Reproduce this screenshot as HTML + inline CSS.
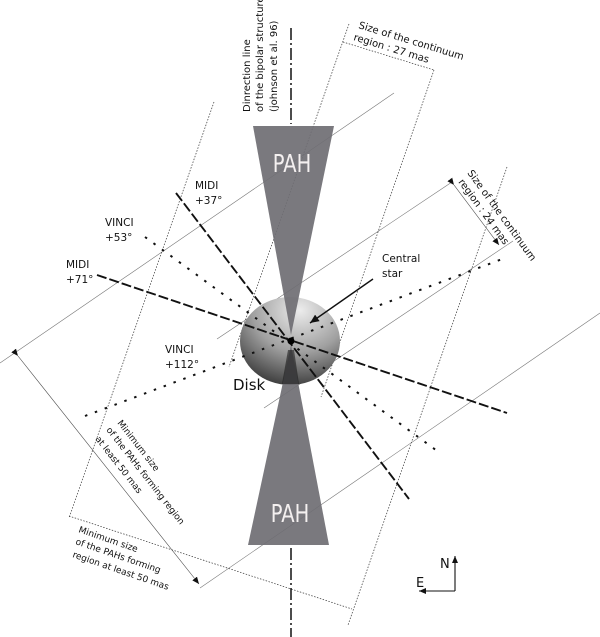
<!DOCTYPE html>
<html><head><meta charset="utf-8"><style>
html,body{margin:0;padding:0;background:#fff;}
svg{display:block;}
text{font-family:"DejaVu Sans","Liberation Sans",sans-serif;fill:#111;}
</style></head><body>
<svg width="600" height="637" viewBox="0 0 600 637" xmlns="http://www.w3.org/2000/svg">
<defs>
<radialGradient id="dg" cx="0.6" cy="0.15" r="0.95">
<stop offset="0" stop-color="#ececec"/>
<stop offset="0.5" stop-color="#a0a0a0"/>
<stop offset="1" stop-color="#2a2a2a"/>
</radialGradient>
<marker id="ah" markerWidth="8" markerHeight="8" refX="7" refY="4" orient="auto" markerUnits="userSpaceOnUse">
<path d="M0,1 L7,4 L0,7 z" fill="#111"/></marker>
<marker id="ahs" markerWidth="10" markerHeight="10" refX="9" refY="5" orient="auto" markerUnits="userSpaceOnUse">
<path d="M0,1 L9,5 L0,9 z" fill="#111"/></marker>
</defs>
<g stroke="#777" stroke-width="0.6" fill="none">
<line x1="394" y1="93" x2="0" y2="363"/>
<line x1="452" y1="182" x2="217" y2="339"/>
<line x1="600" y1="313" x2="200" y2="588"/>
<line x1="513" y1="241" x2="264" y2="408"/>
</g>
<g stroke="#333" stroke-width="0.7" fill="none" stroke-dasharray="1.5 1.5">
<line x1="349" y1="24" x2="229" y2="367"/>
<line x1="434" y1="70" x2="321" y2="397"/>
<line x1="214" y1="102" x2="69" y2="518"/>
<line x1="507" y1="167" x2="348" y2="625"/>
<line x1="343" y1="42" x2="434" y2="70"/>
<line x1="69" y1="516" x2="352" y2="609"/>
</g>
<g stroke="#444" stroke-width="0.6" fill="none">
<line x1="454" y1="185" x2="499" y2="245" marker-start="url(#ah)" marker-end="url(#ah)"/>
<line x1="18" y1="356" x2="199" y2="584" marker-start="url(#ah)" marker-end="url(#ah)"/>
</g>
<ellipse cx="290" cy="341" rx="50" ry="44" fill="url(#dg)"/>
<polygon points="253,126 334,126 291,335" fill="#6f6e73" opacity="0.92"/>
<polygon points="291,345 329,545 248,545" fill="#6f6e73" opacity="0.92"/>
<polygon points="288,350 294,350 299,384 282,384" fill="#1a1a1a" opacity="0.6"/>
<text transform="translate(292,172) scale(0.78,1)" font-size="25" text-anchor="middle" style="fill:#f4f0f0">PAH</text>
<text transform="translate(290,522) scale(0.78,1)" font-size="25" text-anchor="middle" style="fill:#f4f0f0">PAH</text>
<g stroke="#111" stroke-width="1.5" stroke-dasharray="12 3 2 3" fill="none">
<line x1="291" y1="28" x2="291" y2="124"/>
<line x1="291" y1="548" x2="291" y2="637"/>
</g>
<g stroke="#111" stroke-width="1.9" stroke-dasharray="10 3" fill="none">
<line x1="176" y1="193" x2="409" y2="499"/>
<line x1="97" y1="275" x2="507" y2="413"/>
</g>
<g stroke="#111" stroke-width="2" stroke-dasharray="2.5 8" fill="none">
<line x1="145" y1="237" x2="440" y2="453"/>
<line x1="85" y1="416" x2="505" y2="258"/>
</g>
<circle cx="291" cy="341" r="3.5" fill="#000"/>
<line x1="373" y1="279" x2="310" y2="323" stroke="#111" stroke-width="1.4" marker-end="url(#ahs)"/>
<g font-size="10.5">
<text x="195" y="189">MIDI</text><text x="195" y="204">+37°</text>
<text x="105" y="226">VINCI</text><text x="105" y="241">+53°</text>
<text x="66" y="268">MIDI</text><text x="66" y="283">+71°</text>
<text x="382" y="262">Central</text><text x="382" y="277">star</text>
<text x="165" y="353">VINCI</text><text x="165" y="368">+112°</text>
</g>
<text x="233" y="390" font-size="15">Disk</text>
<g font-size="10">
<text transform="translate(250,112) rotate(-90)">Dinrection line</text>
<text transform="translate(263,112) rotate(-90)">of the bipolar structure</text>
<text transform="translate(277,112) rotate(-90)">(johnson et al. 96)</text>
<text transform="translate(358,28) rotate(17)">Size of the continuum</text>
<text transform="translate(353,40) rotate(17)">region : 27 mas</text>
<text transform="translate(467,173) rotate(54)">Size of the continuum</text>
<text transform="translate(458,182) rotate(54)">region : 24 mas</text>
</g>
<g font-size="9">
<text transform="translate(117,423) rotate(52)">Minimum size</text>
<text transform="translate(106,430) rotate(52)">of the PAHs forming region</text>
<text transform="translate(95,439) rotate(52)">at least 50 mas</text>
<text transform="translate(78,532) rotate(19)">Minimum size</text>
<text transform="translate(75,544) rotate(19)">of the PAHs forming</text>
<text transform="translate(72,557) rotate(19)">region at least 50 mas</text>
</g>
<g stroke="#111" stroke-width="1.1" fill="none">
<line x1="455" y1="591" x2="455" y2="556" marker-end="url(#ah)"/>
<line x1="455" y1="591" x2="419" y2="591" marker-end="url(#ah)"/>
</g>
<text x="440" y="568" font-size="13">N</text>
<text x="416" y="587" font-size="13">E</text>
</svg>
</body></html>
